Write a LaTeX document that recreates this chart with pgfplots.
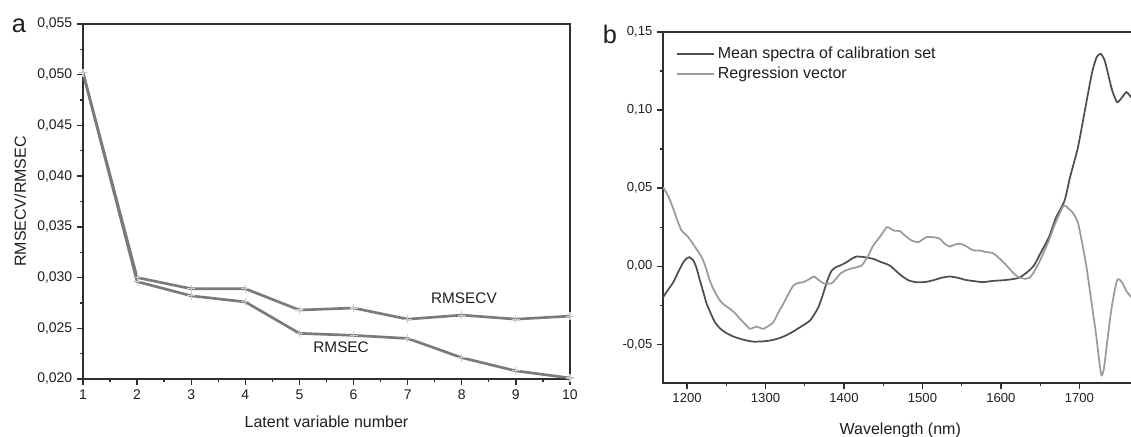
\documentclass[border=0pt]{standalone}
\usepackage{fontspec}
\setmainfont{Liberation Sans}
\usepackage{pgfplots}
\pgfplotsset{compat=1.18}
\definecolor{axisc}{HTML}{2E2E2E}
\definecolor{linec}{HTML}{7A7A7A}
\definecolor{markc}{HTML}{C8C8C8}
\definecolor{meanc}{HTML}{4E4E4E}
\definecolor{regc}{HTML}{9A9A9A}
\definecolor{txtc}{HTML}{1E1E1E}
\pgfplotstableread{
x y
1169.5 -0.0199
1176 -0.015
1182.5 -0.0103
1189 -0.0035
1195.3 0.0026
1200 0.0052
1203 0.0058
1208 0.0037
1212 -0.001
1216.5 -0.0092
1221 -0.017
1225 -0.024
1230 -0.030
1235.6 -0.0359
1242 -0.0398
1248.4 -0.0423
1258 -0.0448
1267.5 -0.0465
1276 -0.0476
1284.4 -0.0483
1295 -0.0482
1305.7 -0.0476
1314 -0.0466
1322.7 -0.0451
1333 -0.0425
1344 -0.0391
1350 -0.0372
1356.7 -0.0348
1362 -0.031
1367.3 -0.0263
1372 -0.020
1376 -0.0135
1380 -0.0075
1384.3 -0.0028
1390 -0.0005
1395 0.0004
1403.4 0.0026
1410 0.0048
1416 0.0062
1426 0.0058
1437.3 0.0047
1448 0.0025
1458.5 0.0004
1471.3 -0.0053
1482 -0.0090
1493 -0.0103
1505 -0.0100
1515 -0.0088
1525 -0.0073
1535 -0.0066
1545 -0.0074
1555 -0.0088
1565 -0.0095
1577 -0.0102
1590 -0.0094
1600 -0.0091
1612 -0.0085
1623 -0.0074
1633 -0.004
1642 0.0004
1650 0.008
1661 0.0185
1670 0.031
1681 0.042
1688 0.057
1698 0.076
1707 0.100
1716 0.124
1722 0.134
1727 0.136
1732 0.132
1737 0.122
1742 0.112
1748 0.105
1754 0.108
1760 0.1115
1766 0.108
}\meantab
\pgfplotstableread{
x y
1169.5 0.0506
1176 0.045
1182.5 0.0368
1188 0.029
1193 0.0229
1201.6 0.0186
1210 0.0125
1218.7 0.0058
1224 -0.001
1229 -0.0092
1235 -0.016
1242 -0.022
1248 -0.025
1254.7 -0.0273
1261 -0.030
1267.5 -0.0337
1274 -0.037
1280 -0.0401
1284 -0.0395
1288.8 -0.0387
1293 -0.0395
1297.2 -0.0401
1303 -0.0385
1310 -0.0359
1316 -0.030
1322.7 -0.0241
1329 -0.018
1335.4 -0.0124
1341 -0.0108
1348 -0.0103
1355 -0.0085
1361.8 -0.0066
1367 -0.0085
1373.6 -0.0109
1379 -0.0112
1384.3 -0.0109
1390 -0.008
1395 -0.0049
1401 -0.0030
1407.6 -0.0017
1415 -0.0008
1422.5 0.0004
1430 0.006
1437.3 0.0133
1446 0.019
1454.4 0.025
1458 0.0245
1462.8 0.0229
1471.3 0.0224
1478 0.0195
1486 0.0165
1495 0.0155
1505 0.0186
1515 0.0185
1522 0.0176
1528 0.0145
1535 0.0126
1542 0.014
1548 0.0144
1555 0.013
1561 0.0111
1567 0.010
1573 0.010
1580 0.0092
1590 0.0083
1598 0.005
1607 0.0005
1615 -0.004
1622 -0.007
1630 -0.008
1636 -0.0075
1642 -0.0038
1650 0.004
1661 0.0164
1668 0.026
1674 0.033
1680 0.039
1686 0.037
1692 0.034
1698 0.028
1703 0.016
1709 -0.0006
1715 -0.022
1721 -0.043
1725 -0.060
1728 -0.070
1731 -0.066
1735 -0.050
1740 -0.030
1744 -0.0177
1748 -0.009
1751 -0.0085
1755 -0.011
1760 -0.016
1766 -0.0199
}\regtab
\begin{document}
\begin{tikzpicture}
\path[use as bounding box] (0,0) rectangle (848.25pt,327pt);
\pgfplotsset{
  common/.style={
    scale only axis, anchor=south west,
    tick align=outside, xtick pos=bottom, ytick pos=left,
    major tick length=4.5pt, minor tick length=2.5pt,
    axis line style={draw=axisc, line width=1.3pt},
    every tick/.style={axisc, line width=1pt},
    /pgf/number format/assume math mode=true,
    scaled y ticks=false, scaled x ticks=false,
    label style={font=\fontsize{12}{14}\selectfont, text=txtc},
  }
}
\begin{axis}[common,
  at={(62.25pt,42.75pt)}, width=365.25pt, height=266.25pt,
  xmin=1, xmax=10, ymin=0.020, ymax=0.055,
  xtick={1,2,3,4,5,6,7,8,9,10}, minor x tick num=1,
  ytick={0.020,0.025,0.030,0.035,0.040,0.045,0.050,0.055}, minor y tick num=1,
  tick label style={font=\fontsize{10.5}{12}\selectfont, text=txtc},
  yticklabel style={/pgf/number format/fixed, /pgf/number format/fixed zerofill, /pgf/number format/precision=3, /pgf/number format/use comma},
  xlabel={Latent variable number},
  ylabel={RMSECV/RMSEC},
  xlabel style={at={(axis description cs:0.5,-0.121)}, anchor=center},
  ylabel style={at={(axis description cs:-0.129,0.5)}, anchor=center},
]
\addplot[color=linec, line width=2pt, mark=+, mark size=3pt, mark options={color=markc, line width=0.8pt}] coordinates {
(1,0.0502) (2,0.0300) (3,0.0289) (4,0.0289) (5,0.0268) (6,0.0270) (7,0.0259) (8,0.0263) (9,0.0259) (10,0.0262)};
\addplot[color=linec, line width=2pt, mark=+, mark size=3pt, mark options={color=markc, line width=0.8pt}] coordinates {
(1,0.0502) (2,0.0296) (3,0.0282) (4,0.0276) (5,0.0245) (6,0.0243) (7,0.0240) (8,0.0221) (9,0.0208) (10,0.0201)};
\node[font=\fontsize{11.5}{13}\selectfont, text=txtc] at (axis cs:8.04,0.0280) {RMSECV};
\node[font=\fontsize{11.5}{13}\selectfont, text=txtc] at (axis cs:5.77,0.0231) {RMSEC};
\end{axis}
\begin{axis}[common,
  at={(497.25pt,39.75pt)}, width=355.9pt, height=263.25pt,
  xmin=1169.4, xmax=1774, ymin=-0.0748, ymax=0.15,
  xtick={1200,1300,1400,1500,1600,1700}, minor x tick num=1,
  ytick={-0.05,0,0.05,0.10,0.15}, minor y tick num=1,
  tick label style={font=\fontsize{9.8}{12}\selectfont, text=txtc},
  yticklabel style={/pgf/number format/fixed, /pgf/number format/fixed zerofill, /pgf/number format/precision=2, /pgf/number format/use comma},
  xticklabel style={/pgf/number format/1000 sep={}},
  xlabel={Wavelength (nm)},
  xlabel style={at={(axis description cs:0.5,-0.134)}, anchor=center},
  legend style={at={(axis description cs:0.027,0.966)}, anchor=north west, draw=none, fill=none, inner sep=0pt, font=\fontsize{12}{14}\selectfont, text=txtc, row sep=1pt},
  legend cell align=left,
  legend image code/.code={\draw[#1] (0pt,0pt) -- (28pt,0pt);},
]
\addplot[color=meanc, line width=1.3pt, smooth, tension=0.35] table[x=x,y=y] {\meantab};
\addlegendentry{Mean spectra of calibration set}
\addplot[color=regc, line width=1.3pt, smooth, tension=0.35] table[x=x,y=y] {\regtab};
\addlegendentry{Regression vector}
\end{axis}
\node[font=\fontsize{19}{21}\selectfont, text=txtc] at (14.25pt,307.5pt) {a};
\node[font=\fontsize{19}{21}\selectfont, text=txtc] at (457.5pt,301.5pt) {b};
\end{tikzpicture}
\end{document}
